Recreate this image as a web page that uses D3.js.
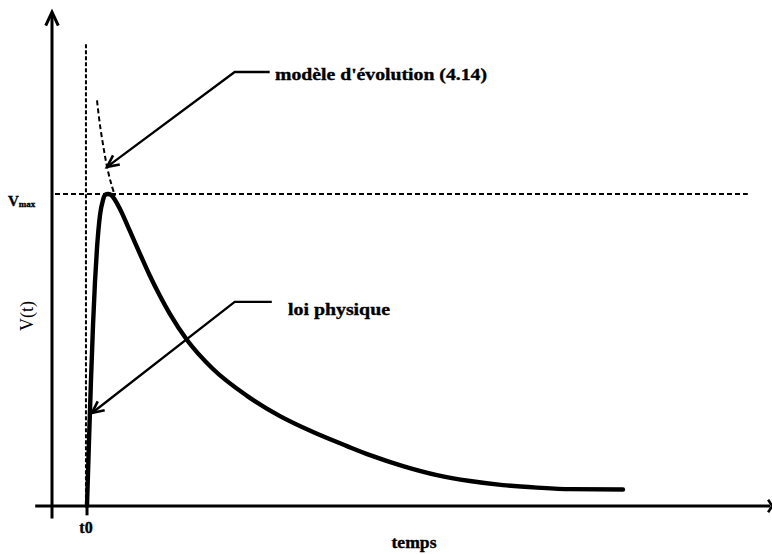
<!DOCTYPE html>
<html>
<head>
<meta charset="utf-8">
<script src="https://cdn.jsdelivr.net/npm/d3@7"></script>
<style>
  html, body { margin: 0; padding: 0; background: #fff; }
  svg { display: block; }
  text { font-family: "Liberation Serif", "Times New Roman", serif; font-weight: bold; fill: #000; }
  text.heavy { stroke: #000; stroke-width: 0.35px; }
</style>
</head>
<body>
<svg id="chart" width="772" height="554"></svg>
<script>
// Time axis (arbitrary units) and normalised speed v / vmax
const t0 = 5;
const vmax = 1;

// "loi physique": measured speed profile
const lawT = [5.0, 5.29, 5.57, 5.86, 6.14, 6.43, 6.86, 7.29, 7.57, 8.0, 8.43, 9.0, 9.71, 11.14, 12.57, 14.0, 15.43, 16.86, 19.29, 23.0, 27.86, 32.57, 37.29, 42.14, 45.43, 50.14, 55.0, 59.71, 64.43, 69.29, 74.0, 81.57];
const lawV = [0.0, 0.212, 0.404, 0.580, 0.718, 0.827, 0.933, 0.981, 0.997, 1.0, 0.997, 0.981, 0.952, 0.881, 0.808, 0.737, 0.673, 0.615, 0.532, 0.439, 0.353, 0.288, 0.237, 0.192, 0.163, 0.128, 0.099, 0.080, 0.067, 0.059, 0.054, 0.053];

// "modèle d'évolution (4.14)": model branch above vmax
const modelT = [6.43, 6.86, 7.43, 7.86, 8.43, 9.0];
const modelV = [1.30, 1.22, 1.14, 1.087, 1.035, 0.994];

// Annotation callouts: [label end, elbow, arrow tip] in data units
const noteModelT = [31.1, 26.1, 7.86];
const noteModelV = [1.391, 1.391, 1.087];
const noteLawT = [31.4, 26.1, 5.71];
const noteLawV = [0.654, 0.654, 0.298];

const svg = d3.select("#chart");
const x = d3.scaleLinear().domain([0, 100]).range([52, 752]);
const y = d3.scaleLinear().domain([0, 1]).range([506, 194]);

const line = d3.line().x(d => x(d[0])).y(d => y(d[1]));

// Axes with arrowheads
const axes = svg.append("g").attr("stroke", "#000").attr("fill", "none");
axes.append("line").attr("x1", x(0)).attr("x2", x(0)).attr("y1", y(-0.04)).attr("y2", y(1.575)).attr("stroke-width", 3);
axes.append("path").attr("d", line([[-0.9, 1.54], [0, 1.583], [0.9, 1.54]])).attr("stroke-width", 3).attr("stroke-linejoin", "miter");
axes.append("line").attr("x1", x(-2.4)).attr("x2", x(102.6)).attr("y1", y(0)).attr("y2", y(0)).attr("stroke-width", 3);
axes.append("path").attr("d", line([[102.3, 0.02], [102.9, 0], [102.3, -0.02]])).attr("stroke-width", 2.5);
axes.append("line").attr("x1", x(t0)).attr("x2", x(t0)).attr("y1", y(0)).attr("y2", y(-0.03)).attr("stroke-width", 3);

// Reference lines: vmax and t0
const dash = svg.append("g").attr("stroke", "#000").attr("fill", "none").attr("stroke-width", 2).attr("stroke-dasharray", "5,3");
dash.append("path").attr("d", line([[0.43, vmax], [99.4, vmax]]));
dash.append("path").attr("d", line([[t0 - 0.15, 1.48], [t0 - 0.15, 0]])).attr("stroke-dasharray", "4,2");

// Model branch (dashed)
dash.append("path")
  .datum(modelT.map((t, i) => [t, modelV[i]]))
  .attr("d", d3.line().x(d => x(d[0])).y(d => y(d[1])).curve(d3.curveCatmullRom));

// Physical law curve
svg.append("path")
  .datum(lawT.map((t, i) => [t, lawV[i]]))
  .attr("fill", "none").attr("stroke", "#000").attr("stroke-width", 4.4)
  .attr("stroke-linecap", "round").attr("stroke-linejoin", "round")
  .attr("d", d3.line().x(d => x(d[0])).y(d => y(d[1])).curve(d3.curveMonotoneX));

// Callout arrows
function callout(ts, vs) {
  const pts = ts.map((t, i) => [x(t), y(vs[i])]);
  const g = svg.append("g").attr("stroke", "#000").attr("fill", "none").attr("stroke-width", 2.3);
  g.append("polyline").attr("points", pts.map(p => p.join(",")).join(" "));
  const tip = pts[2], from = pts[1];
  const ang = Math.atan2(from[1] - tip[1], from[0] - tip[0]);
  const L = 13, spread = 0.45;
  const a1 = [tip[0] + L * Math.cos(ang + spread), tip[1] + L * Math.sin(ang + spread)];
  const a2 = [tip[0] + L * Math.cos(ang - spread), tip[1] + L * Math.sin(ang - spread)];
  g.append("polyline").attr("points", [a1, tip, a2].map(p => p.join(",")).join(" ")).attr("stroke-width", 2.6);
}
callout(noteModelT, noteModelV);
callout(noteLawT, noteLawV);

// Labels
svg.append("text").attr("class", "heavy").attr("x", 275).attr("y", 80).attr("font-size", 17)
  .attr("textLength", 212).attr("lengthAdjust", "spacingAndGlyphs")
  .text("modèle d'évolution (4.14)");
svg.append("text").attr("class", "heavy").attr("x", 288).attr("y", 315).attr("font-size", 17)
  .attr("textLength", 102).attr("lengthAdjust", "spacingAndGlyphs")
  .text("loi physique");

const vm = svg.append("text").attr("class", "heavy").attr("x", 8).attr("y", 206).attr("font-size", 15);
vm.append("tspan").text("V");
vm.append("tspan").attr("font-size", 9).attr("dy", 1).text("max");

svg.append("text").attr("transform", "translate(33,316) rotate(-90)")
  .attr("text-anchor", "middle").attr("font-size", 18).style("font-weight", "normal")
  .text("V(t)");

svg.append("text").attr("class", "heavy").attr("x", x(t0) - 1).attr("y", 533).attr("text-anchor", "middle").attr("font-size", 16)
  .text("t0");
svg.append("text").attr("class", "heavy").attr("x", 414).attr("y", 548).attr("text-anchor", "middle").attr("font-size", 17)
  .attr("textLength", 45).attr("lengthAdjust", "spacingAndGlyphs")
  .text("temps");
</script>
</body>
</html>
